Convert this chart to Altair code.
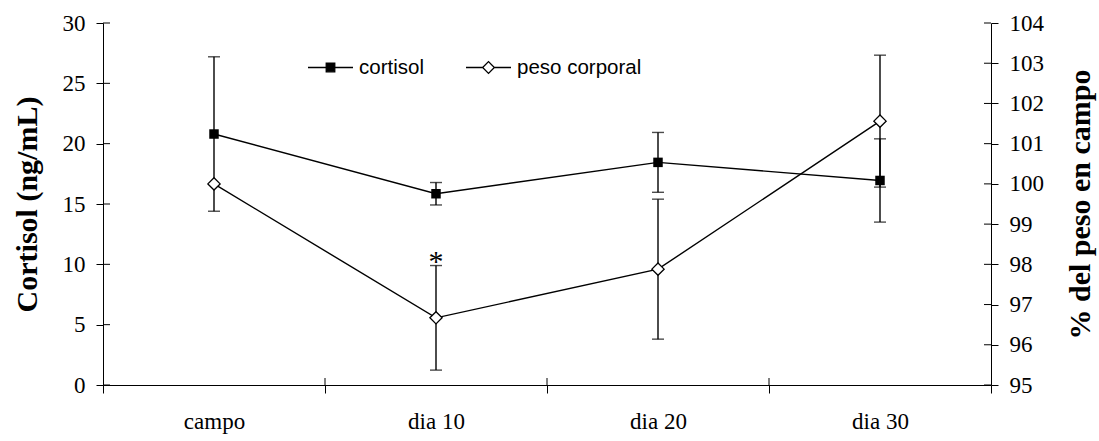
import altair as alt
import pandas as pd

categories = ["campo", "dia 10", "dia 20", "dia 30"]
cortisol = [20.8, 15.85, 18.45, 16.95]
cortisol_err = [6.4, 0.93, 2.48, 3.45]
peso = [100.0, 96.67, 97.88, 101.56]
peso_err = [None, 1.3, 1.74, 1.64]
notes = ["", "*", "", ""]
left_ticks = [0, 5, 10, 15, 20, 25, 30]
right_ticks = [95, 96, 97, 98, 99, 100, 101, 102, 103, 104]
series = ["cortisol", "peso corporal"]

df = pd.DataFrame({"cat": categories, "c": cortisol, "ce": cortisol_err,
                   "p": peso, "pe": peso_err, "note": notes})
df["c_lo"] = df["c"] - df["ce"]
df["c_hi"] = df["c"] + df["ce"]
df["p_lo"] = df["p"] - df["pe"]
df["p_hi"] = df["p"] + df["pe"]
err_p = df.dropna(subset=["pe"])
note_df = df[df["note"] != ""]

W, H = 888, 362
SERIF = "Liberation Serif"
SANS = "Liberation Sans"

xscale = alt.Scale(type="band", domain=categories, paddingInner=0, paddingOuter=0)
xaxis = alt.Axis(title=None, tickBand="extent", tickSize=8, tickColor="black",
                 tickWidth=1, domainColor="black", domainWidth=1,
                 labelFont=SERIF, labelFontSize=23, labelColor="black",
                 labelPadding=17, labelAngle=0, grid=False)


def X(bp=0.5):
    return alt.X("cat:N", scale=xscale, sort=categories, axis=xaxis, bandPosition=bp)


yl_scale = alt.Scale(domain=[0, 30], nice=False, zero=False)
yl_axis = alt.Axis(values=left_ticks, tickSize=7, tickColor="black", domainColor="black",
                   labelFont=SERIF, labelFontSize=23, labelColor="black", labelPadding=11,
                   grid=False, title="Cortisol (ng/mL)", titleFont=SERIF, titleFontSize=30,
                   titleFontWeight="bold", titleColor="black", titleAngle=270,
                   titleX=-76, titleY=H / 2, titleAlign="center", titleBaseline="middle")
yr_scale = alt.Scale(domain=[95, 104], nice=False, zero=False)
yr_axis = alt.Axis(orient="right", values=right_ticks, tickSize=7, tickColor="black",
                   domainColor="black", labelFont=SERIF, labelFontSize=23,
                   labelColor="black", labelPadding=11, grid=False,
                   title="% del peso en campo", titleFont=SERIF, titleFontSize=30,
                   titleFontWeight="bold", titleColor="black", titleAngle=270,
                   titleX=89, titleY=H / 2, titleAlign="center", titleBaseline="middle")


def YL(field):
    return alt.Y(field, type="quantitative", scale=yl_scale, axis=yl_axis, title="Cortisol (ng/mL)")


def YR(field):
    return alt.Y(field, type="quantitative", scale=yr_scale, axis=yr_axis, title="% del peso en campo")


base = alt.Chart(df)

# ---- cortisol (left axis)
c_line = base.mark_line(color="black", strokeWidth=1.4).encode(x=X(), y=YL("c"))
c_bar = base.mark_rule(color="black", strokeWidth=1.4).encode(x=X(), y=YL("c_lo"), y2="c_hi")
c_cap_hi = base.mark_tick(color="black", size=12, thickness=1.4).encode(x=X(), y=YL("c_hi"))
c_cap_lo = base.mark_tick(color="black", size=12, thickness=1.4).encode(x=X(), y=YL("c_lo"))
c_pts = base.mark_point(shape="square", filled=True, color="black", size=90, opacity=1).encode(
    x=X(), y=YL("c"))
left_in = alt.Chart(pd.DataFrame({"v": left_ticks})).mark_rule(color="black", strokeWidth=1).encode(
    y=YL("v"), x=alt.value(0), x2=alt.value(7))
x_in = alt.Chart(pd.DataFrame({"cat": categories[1:]})).mark_rule(color="black", strokeWidth=1).encode(
    x=X(0), y=alt.value(H - 7), y2=alt.value(H))

sym_sq = "M-1,0H1M-0.19,-0.19H0.19V0.19H-0.19Z"
sym_di = "M-1,0H-0.26M0.26,0H1M-0.26,0L0,-0.26L0.26,0L0,0.26Z"
leg = alt.Legend(title=None, orient="none", legendX=204, legendY=21, direction="horizontal",
                 padding=0, symbolSize=2025, symbolStrokeWidth=1.3, symbolStrokeColor="black",
                 labelFont=SANS, labelFontSize=20.5, labelColor="black", labelOffset=5,
                 columnPadding=39)
legend_layer = alt.Chart(pd.DataFrame({"s": series})).mark_point(
    filled=True, stroke="black", strokeWidth=1.3, opacity=1).transform_filter("false").encode(
    shape=alt.Shape("s:N", scale=alt.Scale(domain=series, range=[sym_sq, sym_di]), legend=leg),
    fill=alt.Fill("s:N", scale=alt.Scale(domain=series, range=["black", "white"]), legend=leg),
    stroke=alt.Stroke("s:N", scale=alt.Scale(domain=series, range=["black", "black"]), legend=leg),
)

left = alt.layer(left_in, x_in, c_line, c_bar, c_cap_hi, c_cap_lo, c_pts, legend_layer)

# ---- peso corporal (right axis)
p_line = base.mark_line(color="black", strokeWidth=1.4).encode(x=X(), y=YR("p"))
pe = alt.Chart(err_p)
p_bar = pe.mark_rule(color="black", strokeWidth=1.4).encode(x=X(), y=YR("p_lo"), y2="p_hi")
p_cap_hi = pe.mark_tick(color="black", size=12, thickness=1.4).encode(x=X(), y=YR("p_hi"))
p_cap_lo = pe.mark_tick(color="black", size=12, thickness=1.4).encode(x=X(), y=YR("p_lo"))
p_pts = base.mark_point(shape="diamond", filled=True, fill="white", stroke="black",
                        strokeWidth=1.3, size=150, opacity=1).encode(x=X(), y=YR("p"))
p_note = alt.Chart(note_df).mark_text(font=SERIF, fontSize=30, color="black",
                                      baseline="alphabetic", dy=5).encode(
    x=X(), y=YR("p_hi"), text="note:N")
right_in = alt.Chart(pd.DataFrame({"v": right_ticks})).mark_rule(color="black", strokeWidth=1).encode(
    y=YR("v"), x=alt.value(W - 7), x2=alt.value(W))

right = alt.layer(right_in, p_line, p_bar, p_cap_hi, p_cap_lo, p_pts, p_note)

chart = alt.layer(left, right).resolve_scale(y="independent").properties(
    width=W, height=H,
    padding={"left": 103, "top": 23, "right": 108, "bottom": 56},
    autosize=alt.AutoSizeParams(type="none"),
    background="white",
).configure_view(stroke=None)

chart.save("out.html", embed_options={"renderer": "svg", "actions": False})
